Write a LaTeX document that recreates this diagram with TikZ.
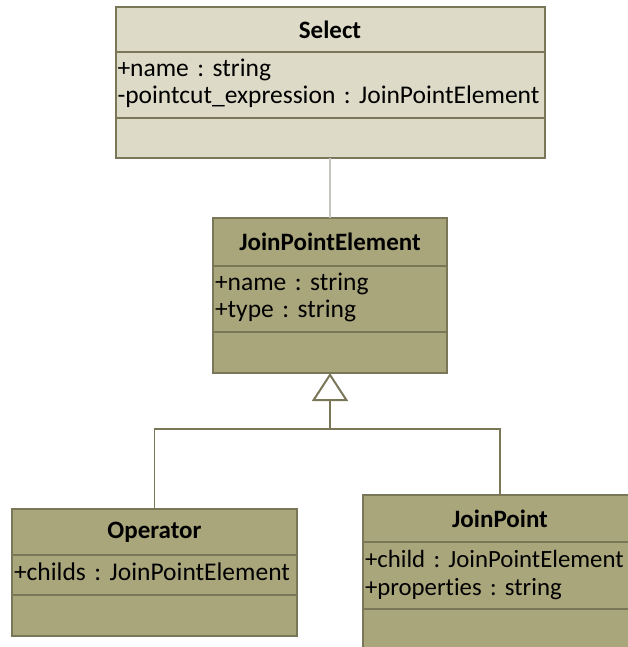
\documentclass[tikz,border=0pt]{standalone}
\usepackage{fontspec}
\setmainfont{Carlito}[Ligatures=NoCommon]
\usepackage{tikz}
\usetikzlibrary{shapes}
\usetikzlibrary{arrows.meta}
\usetikzlibrary{positioning}
\definecolor{umlline}{RGB}{122,118,88}
\definecolor{umlpale}{RGB}{221,219,200}
\definecolor{umldark}{RGB}{170,166,124}
\definecolor{umlgrey}{RGB}{198,198,190}
\newcommand{\attrfont}{\fontsize{25.5}{27}\selectfont\frenchspacing\hyphenpenalty 10000\relax}
\tikzstyle{classhead}=[
        draw=umlline,
        line width=2pt,
        rectangle,
        inner sep=0pt,
        outer sep=0pt,
        anchor=north,
        font=\fontsize{25}{27}\selectfont\bfseries
]
\tikzstyle{classattr}=[
        draw=umlline,
        line width=2pt,
        rectangle,
        inner xsep=2pt,
        inner ysep=0pt,
        outer sep=0pt,
        align=left,
        font=\attrfont
]
\tikzstyle{classops}=[draw=umlline,line width=2pt,rectangle,inner sep=0pt,outer sep=0pt]
\tikzstyle{paleclass}=[fill=umlpale]
\tikzstyle{darkclass}=[fill=umldark]
\tikzstyle{assoc}=[draw=umlgrey,line width=1.5pt]
\tikzstyle{inherit}=[draw=umlline,line width=1.5pt]
\tikzstyle{gen}=[draw=umlline,line width=2pt,-{Triangle[length=28pt,width=36pt,fill=white]}]
\begin{document}
\begin{tikzpicture}[x=1pt,y=1pt]
\useasboundingbox (0,0) rectangle (627,-647);
\node[classhead,paleclass,minimum width=429pt,minimum height=45pt] (selname) at (330,-7) {Select};
\node[classattr,paleclass,text width=425pt,minimum height=66pt,below=0pt of selname] (selattr) {\strut+name : string\\\strut-pointcut\_expression : JoinPointElement};
\node[classops,paleclass,minimum width=429pt,minimum height=40pt,below=0pt of selattr] (selops) {};
\node[classhead,darkclass,minimum width=234pt,minimum height=48pt] (jpename) at (330,-218) {JoinPointElement};
\node[classattr,darkclass,text width=230pt,minimum height=66pt,below=0pt of jpename] (jpeattr) {\strut+name : string\\\strut+type : string};
\node[classops,darkclass,minimum width=234pt,minimum height=41pt,below=0pt of jpeattr] (jpeops) {};
\node[classhead,darkclass,minimum width=285pt,minimum height=46pt] (opname) at (154.5,-509) {Operator};
\node[classattr,darkclass,text width=281pt,minimum height=40pt,below=0pt of opname] (opattr) {\strut+childs : JoinPointElement};
\node[classops,darkclass,minimum width=285pt,minimum height=41pt,below=0pt of opattr] (opops) {};
\node[classhead,darkclass,minimum width=274pt,minimum height=47pt] (jpname) at (500,-495) {JoinPoint};
\node[classattr,darkclass,text width=270pt,minimum height=67pt,below=0pt of jpname,font={\attrfont\fontsize{24.8}{28}\selectfont}] (jpattr) {\strut+child : JoinPointElement\\\strut+properties : string};
\node[classops,darkclass,minimum width=274pt,minimum height=51pt,below=0pt of jpattr] (jpops) {};
%Placementdesliens
\coordinate (fork) at (330,-429);
\draw[assoc] (selops) -- (jpename);
\draw[gen] (fork) -- (jpeops.south);
\draw[inherit] (opname.north) |- (fork) -| (jpname.north);
\end{tikzpicture}
\end{document}
